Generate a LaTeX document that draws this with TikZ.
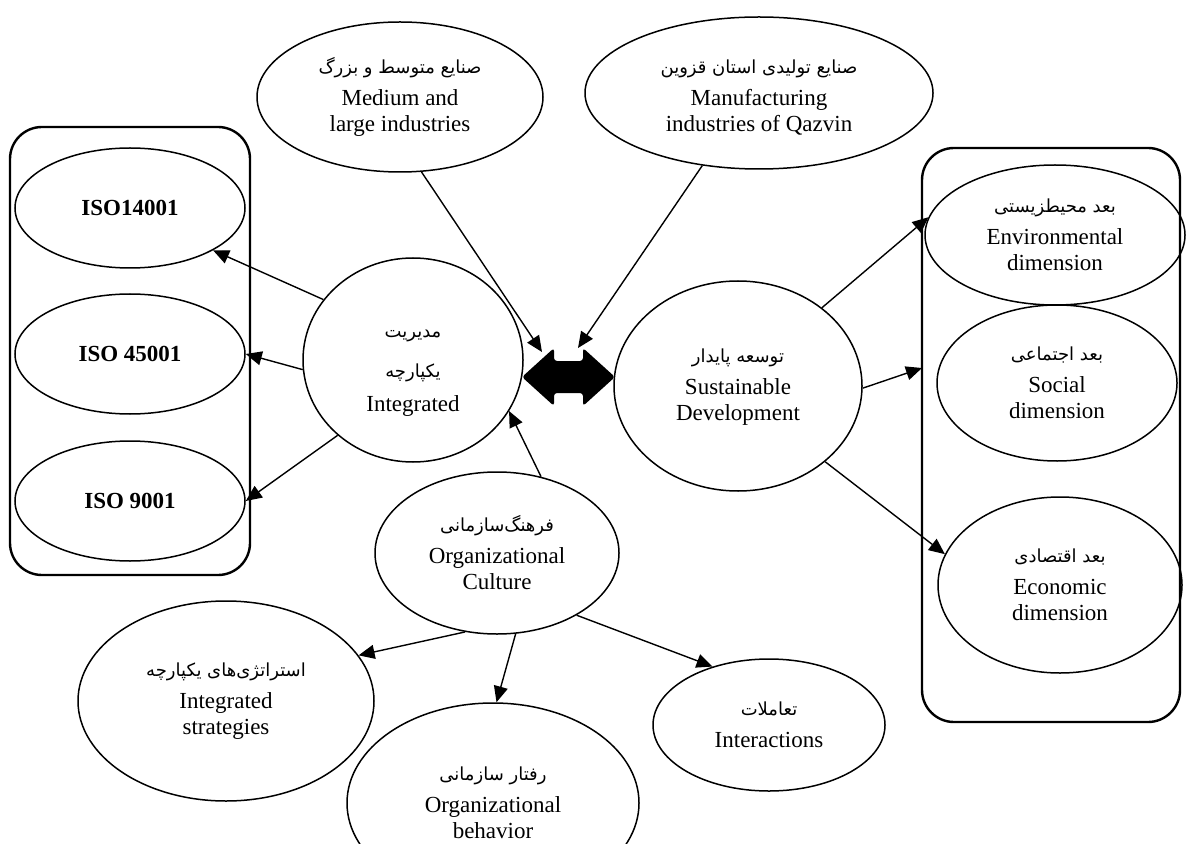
\documentclass[tikz,border=0pt]{standalone}
\usepackage{fontspec}
\setmainfont{Liberation Serif}
\newfontfamily\persianfont[Script=Arabic]{DejaVu Sans}
\TeXXeTstate=1
\newcommand{\fatxt}[1]{{\persianfont\fontsize{9}{12}\selectfont\beginR #1\endR}}
\usetikzlibrary{arrows.meta,shapes.geometric}

\begin{document}
\begin{tikzpicture}[x=0.5pt,y=-0.5pt,
    oval/.style={ellipse,draw,line width=0.75pt,inner sep=0pt,align=center,
      font=\fontsize{11.5}{13}\selectfont},
    isooval/.style={oval,minimum width=115pt,minimum height=60pt,
      font=\bfseries\fontsize{11.5}{13}\selectfont},
    frame/.style={draw,line width=1.2pt,rounded corners=16pt},
    arr/.style={-{Triangle[length=8pt,width=7pt]},line width=0.7pt}]
        \useasboundingbox (0,0) rectangle (1187,844);
        \clip (0,0) rectangle (1187,844);

        % standards
        \draw[frame] (10,127) rectangle (250,575);
        \node[isooval] (iso1) at (130,208) {ISO14001};
        \node[isooval] (iso2) at (130,354) {ISO 45001};
        \node[isooval] (iso3) at (130,501) {ISO 9001};

        \node[oval,minimum width=143pt,minimum height=75pt] (med) at (400,97)
            {\mbox{}\\[-5pt]\fatxt{صنایع متوسط و بزرگ}\\[3pt]Medium and\\large industries};
        \node[oval,minimum width=174pt,minimum height=76pt] (man) at (759,93)
            {\mbox{}\\[-2pt]\fatxt{صنایع تولیدی استان قزوین}\\[3pt]Manufacturing\\industries of Qazvin};

        \node[oval,minimum width=110pt,minimum height=102pt] (im) at (413,360)
            {\mbox{}\\[4pt]\fatxt{مدیریت}\\[7pt]\fatxt{یکپارچه}\\[4pt]Integrated};
        \node[oval,minimum width=124pt,minimum height=105pt] (sd) at (738,386)
            {\mbox{}\\[-5pt]\fatxt{توسعه پایدار}\\[3pt]Sustainable\\Development};

        % dimensions
        \draw[frame] (922,148) rectangle (1180,722);
        \node[oval,minimum width=130pt,minimum height=70pt] (env) at (1055,235)
            {\fatxt{بعد محیطزیستی}\\[3pt]Environmental\\dimension};
        \node[oval,minimum width=120pt,minimum height=78pt] (soc) at (1057,383)
            {\fatxt{بعد اجتماعی}\\[3pt]Social\\dimension};
        \node[oval,minimum width=122pt,minimum height=88pt] (eco) at (1060,585)
            {\fatxt{بعد اقتصادی}\\[3pt]Economic\\dimension};

        \node[oval,minimum width=122pt,minimum height=81pt] (oc) at (497,553)
            {\fatxt{فرهنگ‌سازمانی}\\[3pt]Organizational\\Culture};
        \node[oval,minimum width=148pt,minimum height=100pt] (is) at (226,701)
            {\fatxt{استراتژی‌های یکپارچه}\\[3pt]Integrated\\strategies};
        \node[oval,minimum width=146pt,minimum height=100pt] (ob) at (493,803)
            {\fatxt{رفتار سازمانی}\\[3pt]Organizational\\behavior};
        \node[oval,minimum width=116pt,minimum height=66pt] (ia) at (769,725)
            {\fatxt{تعاملات}\\[3pt]Interactions};

        % big double arrow
        \coordinate (dl) at (522,377);
        \coordinate (dr) at (615,377);
        \fill[rounded corners=1.5pt] (dl) -- ++(32,-29) -- ++(0,13) -- ++(29,0) -- ++(0,-13)
            -- (dr) -- ++(-32,29) -- ++(0,-13) -- ++(-29,0) -- ++(0,13) -- cycle;

        \coordinate (medtip) at (542,352);
        \coordinate (mantip) at (578,348);
        \coordinate (soctip) at (922,368);

        \draw[arr] (im.146) -- (iso1.-27);
        \draw[arr] (im.185) -- (iso2.east);
        \draw[arr] (im.225) -- (iso3.east);
        \draw[arr] (med.-74) -- (medtip);
        \draw[arr] (man.-128) -- (mantip);
        \draw[arr] (oc.60) -- (im.-28);
        \draw[arr] (sd.43) -- (env.172);
        \draw[arr] (sd.-1) -- (soctip);
        \draw[arr] (sd.-41) -- (eco.165);
        \draw[arr] (oc.248) -- (is.19);
        \draw[arr] (oc.-77) -- (ob.88);
        \draw[arr] (oc.-38) -- (ia.134);
\end{tikzpicture}
\end{document}
